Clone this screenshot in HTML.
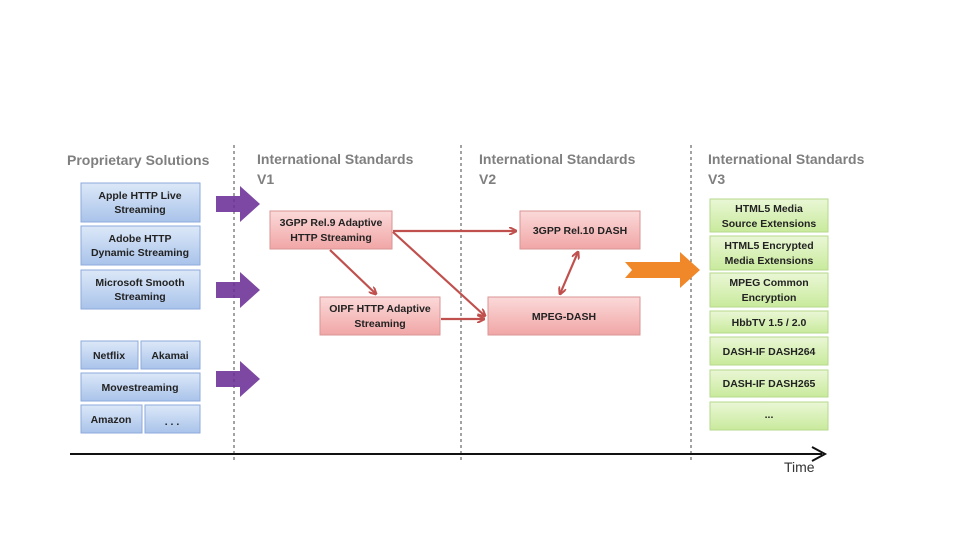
<!DOCTYPE html>
<html><head><meta charset="utf-8"><style>
html,body{margin:0;padding:0;background:#fff;}
svg{display:block;font-family:"Liberation Sans",sans-serif;}
.h{font-size:14px;font-weight:bold;fill:#7f7f7f;}
.t{font-size:10.5px;font-weight:bold;fill:#222;text-anchor:middle;}
</style></head><body>
<svg width="960" height="540" viewBox="0 0 960 540">
<defs>
<linearGradient id="b" x1="0" y1="0" x2="0" y2="1"><stop offset="0" stop-color="#dce8f8"/><stop offset="1" stop-color="#a9c3ea"/></linearGradient>
<linearGradient id="r" x1="0" y1="0" x2="0" y2="1"><stop offset="0" stop-color="#fbd9d9"/><stop offset="1" stop-color="#f1a6a6"/></linearGradient>
<linearGradient id="g" x1="0" y1="0" x2="0" y2="1"><stop offset="0" stop-color="#eaf7d6"/><stop offset="1" stop-color="#c9ea9c"/></linearGradient>
<marker id="ah" markerWidth="8" markerHeight="8" refX="7" refY="4" orient="auto" markerUnits="userSpaceOnUse"><path d="M0,0 L8,4 L0,8" fill="none" stroke="#c0504d" stroke-width="2"/></marker>
<marker id="as" markerWidth="8" markerHeight="8" refX="1" refY="4" orient="auto" markerUnits="userSpaceOnUse"><path d="M8,0 L0,4 L8,8" fill="none" stroke="#c0504d" stroke-width="2"/></marker>
</defs>
<g stroke="#666" stroke-width="1.2" stroke-dasharray="3,3">
<line x1="234" y1="145" x2="234" y2="460"/><line x1="461" y1="145" x2="461" y2="460"/><line x1="691" y1="145" x2="691" y2="460"/>
</g>
<text class="h" x="67" y="165">Proprietary Solutions</text>
<text class="h" x="257" y="164">International Standards</text><text class="h" x="257" y="184">V1</text>
<text class="h" x="479" y="164">International Standards</text><text class="h" x="479" y="184">V2</text>
<text class="h" x="708" y="164">International Standards</text><text class="h" x="708" y="184">V3</text>
<g fill="url(#b)" stroke="#8eaadb" stroke-width="1">
<rect x="81" y="183" width="119" height="39"/><rect x="81" y="226" width="119" height="39"/><rect x="81" y="270" width="119" height="39"/>
<rect x="81" y="341" width="57" height="28"/><rect x="141" y="341" width="59" height="28"/><rect x="81" y="373" width="119" height="28"/>
<rect x="81" y="405" width="61" height="28"/><rect x="145" y="405" width="55" height="28"/>
</g>
<text class="t" x="140" y="199">Apple HTTP Live</text><text class="t" x="140" y="213">Streaming</text>
<text class="t" x="140" y="242">Adobe HTTP</text><text class="t" x="140" y="256">Dynamic Streaming</text>
<text class="t" x="140" y="286">Microsoft Smooth</text><text class="t" x="140" y="300">Streaming</text>
<text class="t" x="109" y="359">Netflix</text><text class="t" x="170" y="359">Akamai</text>
<text class="t" x="140" y="391">Movestreaming</text>
<text class="t" x="111" y="423">Amazon</text><text class="t" x="172" y="425">. . .</text>
<g fill="#6a2f96" opacity="0.88">
<path d="M216,196 L240,196 L240,186 L260,204 L240,222 L240,212 L216,212Z"/>
<path d="M216,282 L240,282 L240,272 L260,290 L240,308 L240,298 L216,298Z"/>
<path d="M216,371 L240,371 L240,361 L260,379 L240,397 L240,387 L216,387Z"/>
</g>
<path d="M625,262 L680,262 L680,252 L700,270 L680,288 L680,278 L625,278 L632,270Z" fill="#f0882a"/>
<g fill="url(#r)" stroke="#d99594" stroke-width="1">
<rect x="270" y="211" width="122" height="38"/><rect x="320" y="297" width="120" height="38"/>
<rect x="520" y="211" width="120" height="38"/><rect x="488" y="297" width="152" height="38"/>
</g>
<text class="t" x="331" y="226">3GPP Rel.9 Adaptive</text><text class="t" x="331" y="241">HTTP Streaming</text>
<text class="t" x="380" y="312">OIPF HTTP Adaptive</text><text class="t" x="380" y="327">Streaming</text>
<text class="t" x="580" y="234">3GPP Rel.10 DASH</text>
<text class="t" x="564" y="320">MPEG-DASH</text>
<g stroke="#c0504d" stroke-width="2.2" fill="none">
<line x1="393" y1="231" x2="516" y2="231" marker-end="url(#ah)"/>
<line x1="330" y1="250" x2="376" y2="294" marker-end="url(#ah)"/>
<line x1="393" y1="232" x2="485" y2="316" marker-end="url(#ah)"/>
<line x1="441" y1="319" x2="484" y2="319" marker-end="url(#ah)"/>
<line x1="560" y1="294" x2="578" y2="252" marker-end="url(#ah)" marker-start="url(#as)"/>
</g>
<g fill="url(#g)" stroke="#b6d98c" stroke-width="1">
<rect x="710" y="199" width="118" height="33"/><rect x="710" y="236" width="118" height="34"/><rect x="710" y="273" width="118" height="34"/>
<rect x="710" y="311" width="118" height="22"/><rect x="710" y="337" width="118" height="28"/><rect x="710" y="370" width="118" height="27"/><rect x="710" y="402" width="118" height="28"/>
</g>
<text class="t" x="769" y="212">HTML5 Media</text><text class="t" x="769" y="227">Source Extensions</text>
<text class="t" x="769" y="249">HTML5 Encrypted</text><text class="t" x="769" y="264">Media Extensions</text>
<text class="t" x="769" y="286">MPEG Common</text><text class="t" x="769" y="301">Encryption</text>
<text class="t" x="769" y="326">HbbTV 1.5 / 2.0</text>
<text class="t" x="769" y="355">DASH-IF DASH264</text>
<text class="t" x="769" y="387">DASH-IF DASH265</text>
<text class="t" x="769" y="418">...</text>
<line x1="70" y1="454" x2="822" y2="454" stroke="#111" stroke-width="2"/>
<path d="M812,447 L825,454 L812,461" fill="none" stroke="#111" stroke-width="2"/>
<text x="784" y="472" font-size="14" fill="#333">Time</text>
</svg>
</body></html>
